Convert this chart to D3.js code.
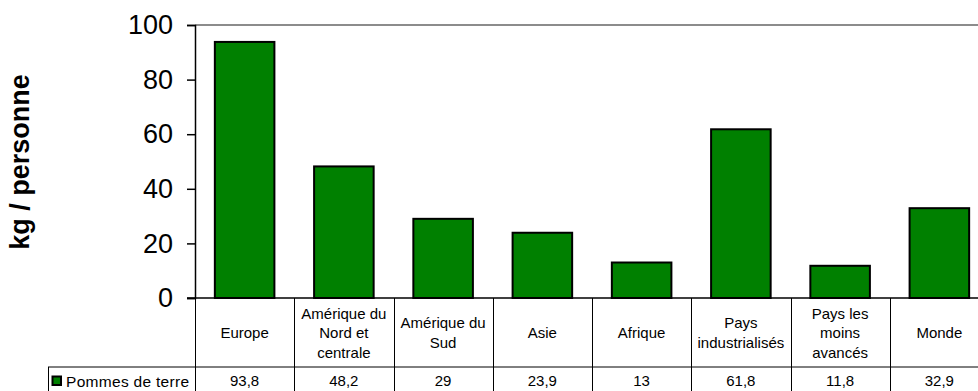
<!DOCTYPE html>
<html><head><meta charset="utf-8">
<script src="https://cdn.jsdelivr.net/npm/d3@7"></script>
<style>html,body{margin:0;padding:0;background:#fff;overflow:hidden}</style>
</head><body>
<svg id="chart" width="978" height="391"></svg>
<script>
const categories = [["Europe"],["Amérique du","Nord et","centrale"],["Amérique du","Sud"],["Asie"],["Afrique"],["Pays","industrialisés"],["Pays les","moins","avancés"],["Monde"]];
const values = [93.8, 48.2, 29, 23.9, 13, 61.8, 11.8, 32.9];
const valueLabels = ["93,8","48,2","29","23,9","13","61,8","11,8","32,9"];
const seriesName = "Pommes de terre";
const yTicks = [0,20,40,60,80,100];
const yTitle = "kg / personne";

const svg = d3.select("#chart");
const font = "'Liberation Sans', Arial, sans-serif";
const pLeft = 195, pRight = 989, pTop = 25, pBottom = 298;
const rowMid = 367, tableBottom = 391, legendLeft = 48;

const ids = categories.map((c,i)=>i);
const x = d3.scaleBand().domain(ids).range([pLeft, pRight]).padding(0);
const y = d3.scaleLinear().domain([0,100]).range([pBottom, pTop]);

// top gray border
svg.append("line").attr("x1", pLeft).attr("x2", pRight).attr("y1", pTop).attr("y2", pTop)
  .attr("stroke", "#8c8c8c").attr("stroke-width", 2);

// bars
const bw = x.bandwidth()*0.6;
svg.selectAll("rect.bar").data(values).enter().append("rect")
  .attr("x", (d,i)=>x(i)+ (x.bandwidth()-bw)/2)
  .attr("y", d=>y(d))
  .attr("width", bw)
  .attr("height", d=>pBottom - y(d))
  .attr("fill", "#008000").attr("stroke", "#000").attr("stroke-width", 2);

// y axis
const yAxis = d3.axisLeft(y).tickValues(yTicks).tickSize(8).tickPadding(14).tickFormat(d3.format("d"));
const ga = svg.append("g").attr("transform", `translate(${pLeft},0)`).call(yAxis);
ga.select(".domain").attr("stroke", "#000").attr("stroke-width", 1.5);
ga.selectAll(".tick line").attr("stroke", "#000").attr("stroke-width", 1.5);
ga.selectAll(".tick text").attr("font-family", font).attr("font-size", 27).attr("fill", "#000");

// y title
svg.append("text").attr("transform", `translate(29,162) rotate(-90)`)
  .attr("text-anchor", "middle").attr("font-family", font).attr("font-weight", "bold")
  .attr("font-size", 27).attr("fill", "#000").text(yTitle);

// table
const tbl = svg.append("g");
tbl.append("line").attr("x1", pLeft-8).attr("x2", pRight).attr("y1", pBottom).attr("y2", pBottom)
  .attr("stroke", "#000").attr("stroke-width", 1.5);
tbl.append("line").attr("x1", legendLeft).attr("x2", pRight).attr("y1", rowMid).attr("y2", rowMid)
  .attr("stroke", "#000").attr("stroke-width", 1);
tbl.append("line").attr("x1", legendLeft+0.5).attr("x2", legendLeft+0.5).attr("y1", rowMid).attr("y2", tableBottom)
  .attr("stroke", "#000").attr("stroke-width", 1);
ids.forEach(i=>{
  const xx = Math.round(x(i))+0.5;
  tbl.append("line").attr("x1", xx).attr("x2", xx).attr("y1", pBottom).attr("y2", tableBottom)
    .attr("stroke", "#000").attr("stroke-width", 1);
});

// category labels
const lh = 19.5;
categories.forEach((lines,i)=>{
  const cx = x(i) + x.bandwidth()/2;
  const t = tbl.append("text").attr("text-anchor","middle").attr("font-family", font)
    .attr("font-size", 15).attr("fill","#000");
  const firstBase = 338 - (lines.length-1)/2*lh;
  lines.forEach((ln,k)=>{
    t.append("tspan").attr("x", cx).attr("y", firstBase + k*lh).text(ln);
  });
});

// values row
valueLabels.forEach((v,i)=>{
  tbl.append("text").attr("x", x(i)+x.bandwidth()/2).attr("y", 386)
    .attr("text-anchor","middle").attr("font-family", font).attr("font-size", 15)
    .attr("fill","#000").text(v);
});

// legend
tbl.append("rect").attr("x", 52.5).attr("y", 376.5).attr("width", 8.5).attr("height", 8.5)
  .attr("fill","#008000").attr("stroke","#000").attr("stroke-width", 2);
tbl.append("text").attr("x", 66).attr("y", 386.5).attr("font-family", font).attr("font-size", 15.5)
  .attr("letter-spacing", 0.3).attr("fill","#000").text(seriesName);
</script>
</body></html>
